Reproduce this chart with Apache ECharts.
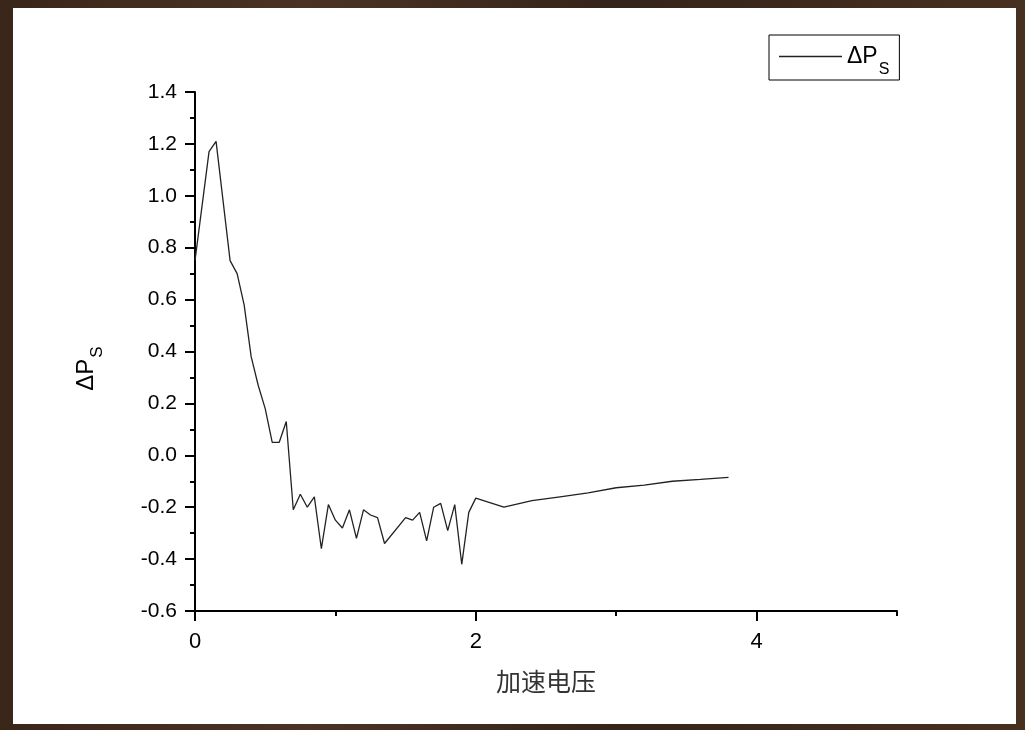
<!DOCTYPE html>
<html>
<head>
<meta charset="utf-8">
<script src="https://cdn.jsdelivr.net/npm/echarts@6/dist/echarts.min.js"></script>
<style>
  html, body {
    margin: 0;
    padding: 0;
    width: 1025px;
    height: 730px;
    overflow: hidden;
    background: linear-gradient(90deg, #3a2619 0%, #4a3324 30%, #35241a 60%, #47301f 100%);
  }
  #chart {
    position: absolute;
    left: 13px;
    top: 8px;
    width: 1003px;
    height: 716px;
    background: #ffffff;
  }
</style>
</head>
<body>
<div id="chart"></div>
<script>
  // 加速电压 vs ΔPs
  const voltage = [0, 0.1, 0.15, 0.25, 0.3, 0.35, 0.4, 0.45, 0.5, 0.55, 0.6, 0.65,
    0.7, 0.75, 0.8, 0.85, 0.9, 0.95, 1.0, 1.05, 1.1, 1.15, 1.2, 1.25, 1.3, 1.35,
    1.5, 1.55, 1.6, 1.65, 1.7, 1.75, 1.8, 1.85, 1.9, 1.95, 2.0,
    2.2, 2.4, 2.6, 2.8, 3.0, 3.2, 3.4, 3.6, 3.8];
  const deltaPs = [0.75, 1.17, 1.21, 0.75, 0.70, 0.58, 0.38, 0.27, 0.18, 0.05, 0.05, 0.13,
    -0.21, -0.15, -0.20, -0.16, -0.36, -0.19, -0.25, -0.28, -0.21, -0.32, -0.21, -0.23, -0.24, -0.34,
    -0.24, -0.25, -0.22, -0.33, -0.20, -0.185, -0.29, -0.19, -0.42, -0.22, -0.165,
    -0.20, -0.175, -0.16, -0.145, -0.125, -0.115, -0.10, -0.093, -0.085];

  const xLabelTicks = [0, 2, 4];
  const xMinorTicks = [1, 3, 5];

  const seriesName = 'ΔPS';
  const font = '"Liberation Sans", Arial, sans-serif';

  const chart = echarts.init(document.getElementById('chart'));

  const axisLine = { show: true, onZero: false, lineStyle: { color: '#000', width: 2 } };

  const option = {
    animation: false,
    backgroundColor: '#ffffff',
    grid: {
      left: 182,
      right: 119,
      top: 84,
      bottom: 113
    },
    legend: {
      data: [{ name: seriesName, icon: 'rect' }],
      left: 756,
      top: 27,
      padding: [10, 10, 2, 10],
      borderColor: '#000',
      borderWidth: 1,
      borderRadius: 0,
      itemWidth: 63,
      itemHeight: 1.4,
      itemStyle: { color: '#222' },
      formatter: function () {
        return '{a|ΔP}{s|S}';
      },
      textStyle: {
        color: '#000',
        fontFamily: font,
        rich: {
          a: { fontSize: 23, lineHeight: 23, verticalAlign: 'top', fontFamily: font },
          s: { fontSize: 16, lineHeight: 16, padding: [17, 0, 0, 1], verticalAlign: 'top', fontFamily: font }
        }
      }
    },
    xAxis: [
      {
        type: 'value',
        min: 0,
        max: 5,
        interval: 1,
        name: '加速电压',
        nameLocation: 'middle',
        nameGap: 58,
        nameTextStyle: {
          fontSize: 25,
          color: '#333',
          fontFamily: '"Noto Sans CJK SC", sans-serif'
        },
        axisLine: axisLine,
        axisTick: {
          show: true,
          customValues: xMinorTicks,
          length: 5,
          lineStyle: { color: '#000', width: 2 }
        },
        axisLabel: {
          customValues: xLabelTicks,
          margin: 20,
          fontSize: 22,
          color: '#000',
          fontFamily: font
        },
        splitLine: { show: false }
      },
      {
        type: 'value',
        min: 0,
        max: 5,
        interval: 1,
        position: 'bottom',
        axisLine: { show: false, onZero: false },
        axisTick: {
          show: true,
          customValues: xLabelTicks,
          length: 10,
          lineStyle: { color: '#000', width: 2 }
        },
        axisLabel: { show: false },
        splitLine: { show: false }
      }
    ],
    yAxis: {
      type: 'value',
      min: -0.6,
      max: 1.4,
      interval: 0.2,
      name: '{a|ΔP}{s|S}',
      nameLocation: 'middle',
      nameGap: 97,
      nameTextStyle: {
        color: '#000',
        padding: [0, 34, 0, 0],
        rich: {
          a: { fontSize: 24, lineHeight: 24, verticalAlign: 'top', fontFamily: font, color: '#000' },
          s: { fontSize: 17, lineHeight: 17, padding: [15, 0, 0, 1], verticalAlign: 'top', fontFamily: font, color: '#000' }
        }
      },
      axisLine: axisLine,
      axisTick: {
        show: true,
        length: 10,
        lineStyle: { color: '#000', width: 2 }
      },
      minorTick: {
        show: true,
        splitNumber: 2,
        length: 5,
        lineStyle: { color: '#000', width: 2 }
      },
      axisLabel: {
        margin: 18,
        fontSize: 21,
        color: '#000',
        fontFamily: font,
        formatter: function (v) {
          return v.toFixed(1);
        }
      },
      splitLine: { show: false }
    },
    series: [
      {
        name: seriesName,
        type: 'line',
        symbol: 'none',
        lineStyle: { color: '#222', width: 1.3 },
        itemStyle: { color: '#222' },
        data: voltage.map((v, i) => [v, deltaPs[i]])
      }
    ]
  };

  chart.setOption(option);
</script>
</body>
</html>
